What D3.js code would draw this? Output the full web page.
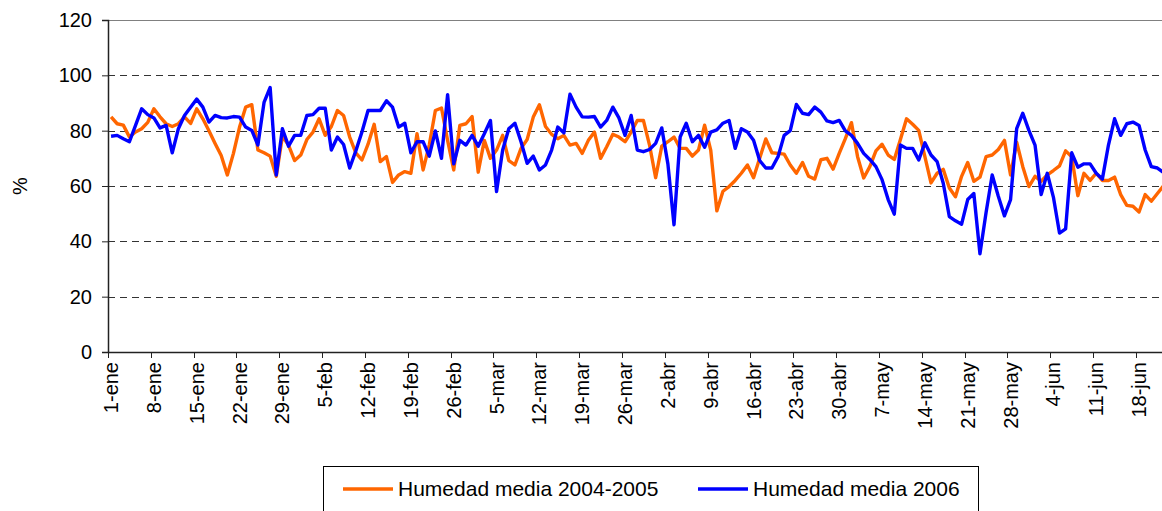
<!DOCTYPE html>
<html>
<head>
<meta charset="utf-8">
<script src="https://cdn.jsdelivr.net/npm/d3@7"></script>
<style>
  html, body { margin: 0; padding: 0; background: #fff; }
  svg { display: block; font-family: "Liberation Sans", Arial, sans-serif; }
</style>
</head>
<body>
<div id="chart"></div>
<script>
// Humedad media diaria, 1-ene a 22-jun (una categoría por día)
const tickLabels = ["1-ene", "8-ene", "15-ene", "22-ene", "29-ene", "5-feb", "12-feb", "19-feb",
  "26-feb", "5-mar", "12-mar", "19-mar", "26-mar", "2-abr", "9-abr", "16-abr", "23-abr", "30-abr",
  "7-may", "14-may", "21-may", "28-may", "4-jun", "11-jun", "18-jun"]

const humedad0405 = [
  85, 82.5, 82, 77.7, 79.5, 80.7, 83, 87.9, 85, 82.5, 81.5, 82.5, 85, 82.6, 87.9, 84.3, 80, 75.4, 71, 64,
  71.8, 81.3, 88.5, 89.4, 73, 72, 70.8, 63.5, 78, 74.8, 69.2, 71.2, 76.8, 79.5, 84.3, 78.3, 81.5, 87.3, 85.5, 77.7,
  72, 69.4, 75.1, 82.3, 68.8, 70.6, 61.3, 64, 65.2, 64.6, 78.9, 65.8, 74.8, 87.3, 88.2, 76.5, 65.8, 81.9, 82.5, 85.1,
  65, 76.5, 70, 73, 78.3, 69.2, 67.6, 73.6, 76.8, 84.9, 89.4, 81.5, 78.7, 77.1, 78.3, 74.8, 75.4, 71.8, 76.5, 79.5,
  70, 74.2, 78.7, 77.7, 76, 79.5, 83.7, 83.7, 74.8, 63, 74.4, 76, 77.7, 73.6, 73.6, 70.8, 73, 82, 73, 51,
  58.1, 59.8, 62, 64.6, 67.6, 63, 70, 77, 72, 71.8, 71.5, 67.6, 64.6, 68.5, 63.5, 62.5, 69.5, 70, 66.1, 71.8,
  77.1, 82.9, 70.6, 62.9, 67, 72.7, 75.1, 71.2, 69.6, 76.8, 84.3, 82.3, 80.1, 70.6, 61.1, 64.6, 66, 59.3, 56.1, 63.5,
  68.5, 61.7, 63.2, 70.6, 71.2, 73.2, 76.5, 64, 75.8, 67, 59.8, 63.5, 61.7, 64, 65.6, 67.3, 72.7, 70.6, 56.5, 64.6,
  62, 64.6, 62, 62, 63.2, 56.9, 53, 52.7, 50.6, 56.9, 54.5, 57.3, 60.1
]

const humedad2006 = [
  78, 78.3, 77.1, 76, 81.9, 87.9, 85.8, 84.6, 81, 81.9, 72, 80.7, 85.5, 88.5, 91.4, 88.5, 83.1, 85.5, 84.7, 84.6,
  85.1, 84.9, 81.3, 80.1, 74.8, 90.2, 95.6, 64, 80.7, 74.4, 78.3, 78.3, 85.5, 85.8, 88.1, 88.1, 73, 77.7, 75, 66.5,
  72.7, 79.5, 87.3, 87.3, 87.3, 90.8, 88.5, 81.3, 82.7, 72, 76, 76, 70.8, 79.9, 70, 93, 68, 76.5, 74.8, 78.3,
  74.4, 78.9, 83.7, 58, 73, 80.7, 82.7, 76, 68.2, 70.8, 65.8, 67.6, 73, 81.3, 79.2, 93.2, 88.5, 85, 84.9, 85.1,
  81.3, 83.7, 88.5, 84.6, 78.3, 85.5, 73, 72.4, 73.2, 75.4, 81, 68, 46, 77.7, 82.7, 76, 78.3, 74, 79.5, 80.3,
  82.7, 83.7, 73.6, 80.7, 79.5, 76.5, 69.2, 66.5, 66.5, 70.6, 78.3, 80, 89.5, 86.3, 85.8, 88.5, 86.7, 83.5, 82.9, 83.7,
  79.9, 78.3, 75.4, 71.8, 69.6, 67, 62.3, 55.1, 49.8, 74.8, 73.6, 73.6, 69.4, 75.6, 71.2, 68.8, 61, 48.9, 47.4, 46.2,
  55.1, 57.3, 35.5, 50.4, 64, 56.3, 49.2, 55.1, 80.7, 86.3, 80.1, 74.8, 56.9, 64.6, 56, 43, 44.5, 72, 66.8, 68,
  68, 64.6, 62.5, 74.8, 84.3, 78.3, 82.5, 83.1, 81.9, 73, 67, 66.5, 64.9
]

const yTicks = [0, 20, 40, 60, 80, 100, 120]

const seriesNames = ["Humedad media 2004-2005", "Humedad media 2006"]
const seriesColors = ["#ff6600", "#0000ff"]

const W = 1162, H = 511
const margin = { left: 108, top: 20, bottom: 352 }
const dayW = 6.119
const nDays = humedad2006.length

const svg = d3.select("#chart").append("svg")
  .attr("width", W).attr("height", H)

svg.append("rect").attr("width", W).attr("height", H).attr("fill", "#fff")

const x = d3.scaleBand()
  .domain(d3.range(nDays))
  .range([margin.left, margin.left + nDays * dayW])
  .padding(0)
const y = d3.scaleLinear().domain([0, 120]).range([margin.bottom, margin.top])
const cx = (i) => x(i) + x.bandwidth() / 2

// Rejilla discontinua
svg.append("g")
  .selectAll("line")
  .data(yTicks.filter((d) => d > 0 && d < 120))
  .join("line")
  .attr("x1", margin.left).attr("x2", W)
  .attr("y1", (d) => Math.round(y(d)) + 0.5).attr("y2", (d) => Math.round(y(d)) + 0.5)
  .attr("stroke", "#333").attr("stroke-width", 1)
  .attr("stroke-dasharray", "7,5")

// Borde superior del área de trazado
svg.append("line")
  .attr("x1", margin.left).attr("x2", W)
  .attr("y1", y(120) + 0.5).attr("y2", y(120) + 0.5)
  .attr("stroke", "#808080")

// Eje Y
const yAxis = svg.append("g")
  .attr("transform", `translate(${margin.left},0)`)
  .call(d3.axisLeft(y).tickValues(yTicks).tickSize(6).tickPadding(10).tickFormat(d3.format("d")))
yAxis.select(".domain").attr("stroke", "#222").attr("stroke-width", 1.5)
yAxis.selectAll(".tick line").attr("stroke", "#222")
yAxis.selectAll(".tick text").attr("font-size", 20).attr("fill", "#000")
  .attr("font-family", "Liberation Sans, Arial, sans-serif")

svg.append("text")
  .attr("transform", `translate(27,${(y(0) + y(120)) / 2}) rotate(-90)`)
  .attr("text-anchor", "middle")
  .attr("font-size", 20)
  .text("%")

// Eje X: marcas cada 7 días entre categorías, etiquetas giradas
const xg = svg.append("g")
xg.append("line")
  .attr("x1", margin.left).attr("x2", W)
  .attr("y1", y(0) + 0.5).attr("y2", y(0) + 0.5)
  .attr("stroke", "#222").attr("stroke-width", 1.5)

const tickIdx = d3.range(0, nDays, 7)
xg.selectAll("line.tick")
  .data(tickIdx)
  .join("line")
  .attr("class", "tick")
  .attr("x1", (i) => Math.round(x(i)) + 0.5).attr("x2", (i) => Math.round(x(i)) + 0.5)
  .attr("y1", y(0)).attr("y2", y(0) + 6)
  .attr("stroke", "#222")

xg.selectAll("text")
  .data(tickIdx.slice(0, tickLabels.length))
  .join("text")
  .attr("transform", (i) => `translate(${cx(i)},${y(0) + 10}) rotate(-90)`)
  .attr("text-anchor", "end")
  .attr("dy", "0.35em")
  .attr("font-size", 20)
  .text((i, k) => tickLabels[k])

// Series
const line = d3.line().x((d, i) => cx(i)).y((d) => y(d))
const plot = svg.append("g")
;[humedad0405, humedad2006].forEach((s, k) => {
  plot.append("path")
    .datum(s)
    .attr("fill", "none")
    .attr("stroke", seriesColors[k])
    .attr("stroke-width", 3.4)
    .attr("stroke-linejoin", "round")
    .attr("d", line)
})

// Leyenda
const lg = svg.append("g")
lg.append("rect")
  .attr("x", 323.5).attr("y", 466.5).attr("width", 655).attr("height", 60)
  .attr("fill", "#fff").attr("stroke", "#000")

const legendX = [343, 698]
seriesNames.forEach((name, k) => {
  lg.append("line")
    .attr("x1", legendX[k]).attr("x2", legendX[k] + 50)
    .attr("y1", 489).attr("y2", 489)
    .attr("stroke", seriesColors[k]).attr("stroke-width", 3.4)
  lg.append("text")
    .attr("x", legendX[k] + 55).attr("y", 489)
    .attr("dy", "0.35em")
    .attr("font-size", 21)
    .text(name)
})
</script>
</body>
</html>
